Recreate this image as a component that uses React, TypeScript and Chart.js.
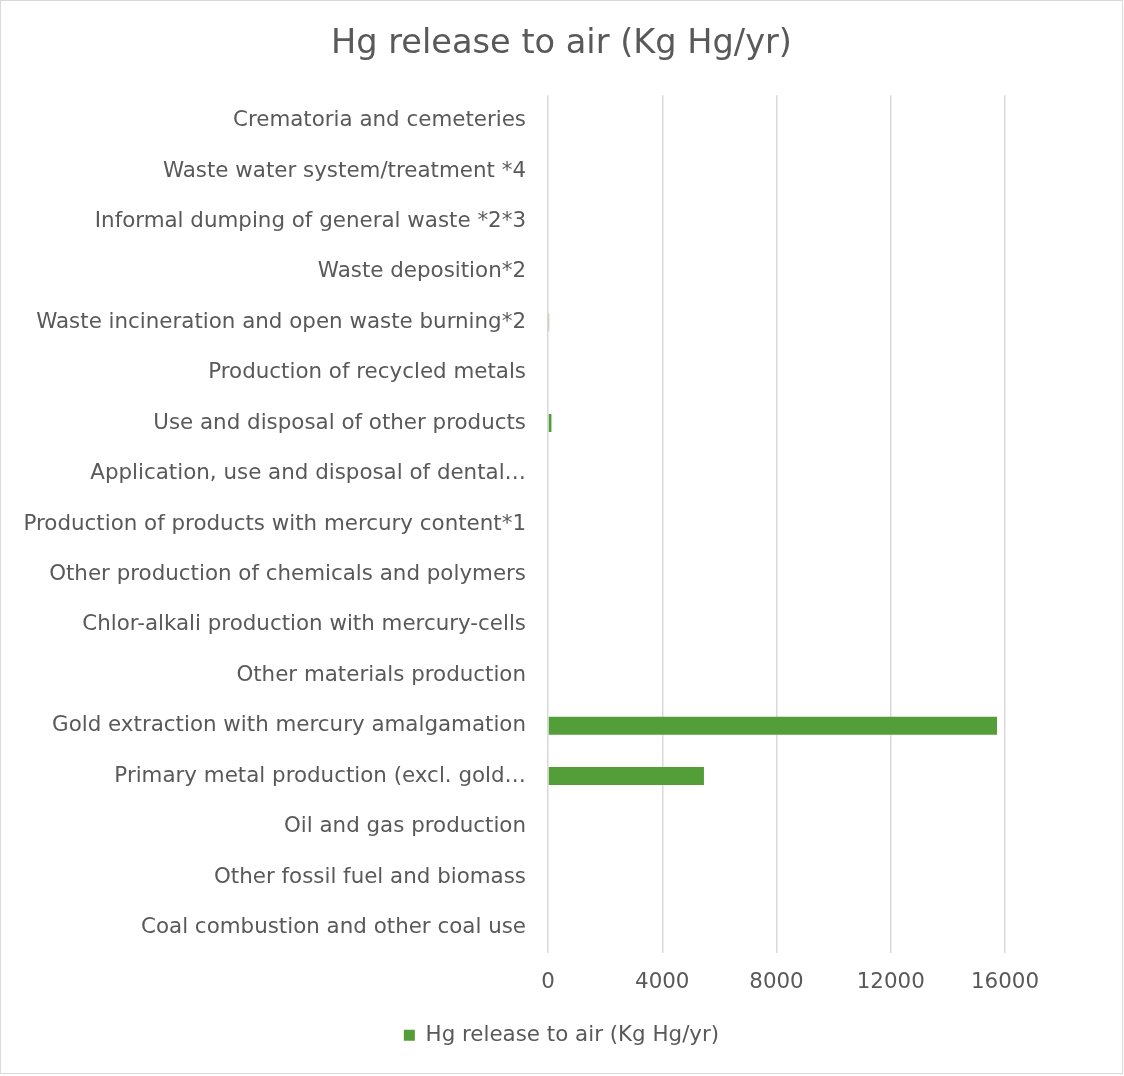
import React, { useEffect, useRef } from "react";
import { Chart, registerables } from "chart.js";

Chart.register(...registerables);

// Source categories, listed from the bottom of the axis upward
const categories: string[] = [
  "Coal combustion and other coal use",
  "Other fossil fuel and biomass",
  "Oil and gas production",
  "Primary metal production (excl. gold…",
  "Gold extraction with mercury amalgamation",
  "Other materials production",
  "Chlor-alkali production with mercury-cells",
  "Other production of chemicals and polymers",
  "Production of products with mercury content*1",
  "Application, use and disposal of dental…",
  "Use and disposal of other products",
  "Production of recycled metals",
  "Waste incineration and open waste burning*2",
  "Waste deposition*2",
  "Informal dumping of general waste *2*3",
  "Waste water system/treatment *4",
  "Crematoria and cemeteries",
];

// Hg release to air, Kg Hg/yr
const releaseToAir: number[] = [
  0, 0, 0, 5460, 15720, 0, 0, 0, 0, 0, 120, 0, 40, 0, 0, 0, 0,
];

const seriesName = "Hg release to air (Kg Hg/yr)";
const chartTitle = "Hg release to air (Kg Hg/yr)";
const xTicks: number[] = [0, 4000, 8000, 12000, 16000];

const FONT = "'DejaVu Sans', sans-serif";
const TEXT = "#595959";
const GRID = "#d9d9d9";
const GREEN = "#549e39";

export default function App() {
  const ref = useRef<HTMLCanvasElement | null>(null);

  useEffect(() => {
    if (!ref.current) return;
    const chart = new Chart(ref.current, {
      type: "bar",
      data: {
        labels: categories,
        datasets: [
          {
            label: seriesName,
            data: releaseToAir,
            backgroundColor: GREEN,
            borderWidth: 0,
            categoryPercentage: 1,
            barPercentage: 0.357,
          },
        ],
      },
      options: {
        indexAxis: "y",
        responsive: false,
        animation: false,
        devicePixelRatio: 1,
        layout: { padding: { left: 0, right: 0, top: 0, bottom: 17 } },
        plugins: {
          title: {
            display: true,
            text: chartTitle,
            color: TEXT,
            font: { family: FONT, size: 33.6, weight: "normal", lineHeight: 1.2 },
            padding: { top: 23, bottom: 31 },
          },
          legend: {
            display: true,
            position: "bottom",
            labels: {
              color: TEXT,
              font: { family: FONT, size: 21.4 },
              boxWidth: 11,
              boxHeight: 11,
              padding: 10,
            },
          },
          tooltip: { enabled: false },
        },
        scales: {
          x: {
            min: 0,
            max: 16000,
            afterBuildTicks: (scale: any) => {
              scale.ticks = xTicks.map((v) => ({ value: v }));
            },
            afterFit: (scale: any) => {
              scale.height = 62;
            },
            grid: { color: GRID, lineWidth: 1.5, drawTicks: false },
            border: { display: false },
            ticks: {
              color: TEXT,
              font: { family: FONT, size: 21.4 },
              padding: 17,
              maxRotation: 0,
              callback: (v: any) => String(v),
            },
          },
          y: {
            reverse: true,
            afterFit: (scale: any) => {
              scale.width = 547;
            },
            grid: { display: false },
            border: { display: false },
            ticks: {
              color: TEXT,
              font: { family: FONT, size: 21.4 },
              padding: 14,
              autoSkip: false,
            },
          },
          // empty right-hand margin beside the plot area
          gutter: {
            type: "linear",
            axis: "y",
            position: "right",
            display: true,
            afterFit: (scale: any) => {
              scale.width = 117;
            },
            grid: { display: false },
            border: { display: false },
            ticks: { display: false },
          },
        },
      } as any,
    });
    return () => chart.destroy();
  }, []);

  return (
    <div
      style={{
        position: "absolute",
        left: 0,
        top: 0,
        width: 1123,
        height: 1074,
        boxSizing: "border-box",
        border: "1px solid #d9d9d9",
        background: "#ffffff",
      }}
    >
      <canvas ref={ref} width={1121} height={1072} style={{ display: "block", width: 1121, height: 1072 }} />
    </div>
  );
}
